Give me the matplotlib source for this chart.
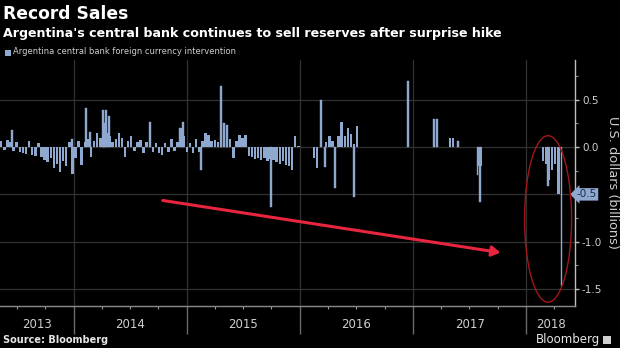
import matplotlib
matplotlib.use('Agg')
import matplotlib.pyplot as plt
import matplotlib.dates as mdates
import numpy as np
import pandas as pd
from matplotlib.patches import Ellipse, FancyArrowPatch, Rectangle
from matplotlib.transforms import blended_transform_factory

plt.rcParams['axes.unicode_minus'] = False
plt.rcParams['font.family'] = ['DejaVu Sans']

# ---------------- data ----------------
bin_start = '2013-05-07'          # 10-day bins of net intervention (USD bn)
bin_values = [
    0.06, -0.03, 0.07, 0.05, -0.04, 0.05, -0.05, -0.06, -0.07, 0.06,
    -0.08, -0.09, 0.04, -0.10, -0.14, -0.16, -0.12, -0.22, -0.18, -0.26,
    -0.15, -0.20, 0.05, -0.28, -0.12, 0.06, -0.19, 0.05, 0.08, -0.10,
    0.06, 0.15, 0.10, 0.20, 0.15, 0.12, 0.05, 0.08, 0.15, 0.10,
    -0.11, 0.06, 0.12, -0.04, 0.05, 0.07, -0.06, 0.05, 0.06, -0.05,
    0.04, -0.06, -0.08, 0.04, -0.05, 0.08, -0.04, 0.05, 0.20, 0.12,
    -0.05, 0.04, -0.06, 0.09, -0.05, 0.06, 0.15, 0.13, 0.06, 0.07,
    0.05, 0.10, 0.10, 0.08, 0.08, -0.12, 0.06, 0.13, 0.10, 0.13,
    -0.09, -0.11, -0.13, -0.12, -0.14, -0.12, -0.15, -0.13, -0.14, -0.16,
    -0.18, -0.15, -0.19, -0.20, -0.24, 0.12, 0.01, 0.005, 0.005, 0.005,
    0.0, -0.12, -0.22, 0.0, 0.0, 0.05, 0.12, 0.06, 0.0, 0.12,
    0.27, 0.12, 0.20, 0.14, 0.03, 0.22, 0.0, 0.0, 0.0, 0.0,
    0.0, 0.0, 0.0, 0.0, 0.0, 0.0, 0.0, 0.0, 0.0, 0.0,
    0.0, 0.0, 0.0, 0.0, 0.0, 0.0, 0.0, 0.0, 0.0, 0.0,
    0.0, 0.0, 0.0, 0.0, 0.0, 0.10, 0.10, 0.0, 0.0, 0.0,
    0.0, 0.0, 0.0, 0.0, -0.20, -0.20, 0.0, 0.0, 0.0, 0.0,
    0.0, 0.0, 0.0, 0.0, 0.0, 0.0, 0.0, 0.0, 0.0, 0.0,
    0.0, 0.0, 0.0, 0.0, 0.0, -0.15, -0.18, -0.35, -0.24, -0.18,
    -0.50,
]

spike_dates = [
    '2013-06-15', '2013-12-26', '2014-02-09', '2014-02-22', '2014-04-05',
    '2014-04-08', '2014-04-15', '2014-04-24', '2014-09-04', '2014-12-10',
    '2014-12-19', '2015-02-16', '2015-04-21', '2015-05-01', '2015-05-11',
    '2015-09-30', '2016-03-09', '2016-03-22', '2016-04-24', '2016-06-24',
    '2016-12-16', '2017-03-10', '2017-03-19', '2017-05-26', '2017-07-27',
    '2017-08-05', '2018-03-13', '2018-04-26',
]
spike_values = [
    0.18, 0.09, 0.41, 0.16, 0.39,
    0.25, 0.39, 0.33, 0.27, 0.20,
    0.27, -0.24, 0.65, 0.25, 0.23,
    -0.63, 0.50, -0.21, -0.43, -0.53,
    0.70, 0.30, 0.30, 0.06, -0.30,
    -0.58, -0.41, -1.47,
]

year_labels = ['2013', '2014', '2015', '2016', '2017', '2018']
y_ticks = [-1.5, -1.0, -0.5, 0.0, 0.5]

title = 'Record Sales'
subtitle = "Argentina's central bank continues to sell reserves after surprise hike"
legend_label = 'Argentina central bank foreign currency intervention'
y_label = 'U.S. dollars (billions)'
source = 'Source: Bloomberg'

# ---------------- figure ----------------
BG = '#000000'
BAR = '#8fa8cf'
GRID = '#313131'
TXT = '#cfcfcf'

fig = plt.figure(figsize=(6.2, 3.48), dpi=100, facecolor=BG)
ax = fig.add_axes([0.0, 1 - 306 / 348, 575 / 620, (306 - 60) / 348])
ax.set_facecolor(BG)

bin_dates = pd.date_range(bin_start, periods=len(bin_values), freq='10D')
ax.bar(bin_dates, bin_values, width=8, align='edge', color=BAR, linewidth=0, zorder=3)
ax.bar(pd.to_datetime(spike_dates), spike_values, width=4.5, align='center',
       color=BAR, edgecolor=BAR, linewidth=0.3, zorder=3)

x0 = pd.Timestamp('2013-05-07')
x1 = pd.Timestamp('2018-06-08')
ax.set_xlim(x0, x1)
ax.set_ylim(-1.68, 0.92)

# grid
ax.set_yticks(y_ticks)
ax.grid(axis='y', color=GRID, linewidth=0.9, zorder=0)
years = [pd.Timestamp(f'{y}-01-01') for y in range(2014, 2019)]
for yd in years:
    ax.axvline(yd, color=GRID, linewidth=0.9, zorder=0)

# spines
for s in ['top', 'left']:
    ax.spines[s].set_visible(False)
ax.spines['bottom'].set_color('#8a8a8a')
ax.spines['bottom'].set_linewidth(1.0)
ax.spines['right'].set_color('#bdbdbd')
ax.spines['right'].set_linewidth(1.0)

# y axis on right
ax.yaxis.tick_right()
labels = ['' if abs(v + 0.5) < 1e-9 else f'{v:.1f}' for v in y_ticks]
ax.set_yticklabels(labels)
ax.tick_params(axis='y', which='major', colors='#bdbdbd', labelcolor=TXT,
               labelsize=7.5, length=3, width=1, pad=2)
ax.set_yticks(np.arange(-1.5, 0.76, 0.25), minor=True)
ax.tick_params(axis='y', which='minor', colors='#8a8a8a', length=2, width=0.8)

ax.text(1.003, -0.5, '-0.5', transform=blended_transform_factory(ax.transAxes, ax.transData),
        ha='left', va='center', fontsize=7.5, color='#1a2a44',
        bbox=dict(boxstyle='larrow,pad=0.12', facecolor=BAR, edgecolor='none'))

ax.text(1.065, 0.5, y_label, transform=ax.transAxes, rotation=270,
        ha='center', va='center', fontsize=9.3, color=TXT)

# x axis: separators at years, minor quarter ticks, labels between
ax.set_xticks(years)
ax.set_xticklabels([])
ax.tick_params(axis='x', which='major', colors='#6a6a6a', length=20, width=1)
quarters = pd.date_range('2013-07-01', '2018-04-01', freq='QS')
ax.set_xticks(quarters, minor=True)
ax.tick_params(axis='x', which='minor', colors='#9a9a9a', length=2, width=0.8)

trans = blended_transform_factory(ax.transData, ax.transAxes)
edges = [x0] + years + [x1]
for lab, a, b in zip(year_labels, edges[:-1], edges[1:]):
    mid = a + (b - a) / 2
    ax.text(mid, -0.077, lab, transform=trans, ha='center', va='center',
            fontsize=8.5, color=TXT)

# annotations: arrow and ellipse
arrow = FancyArrowPatch((mdates.date2num(pd.Timestamp('2014-10-06')), -0.56),
                        (mdates.date2num(pd.Timestamp('2017-10-19')), -1.12),
                        arrowstyle='-|>,head_length=5,head_width=3',
                        color='#e8253f', linewidth=2.2, zorder=5)
ax.add_patch(arrow)
ell = Ellipse((mdates.date2num(pd.Timestamp('2018-03-13')), -0.76),
              width=152, height=1.76, fill=False, edgecolor='#a3161a',
              linewidth=1.0, zorder=5)
ax.add_patch(ell)

# titles
fig.text(0.005, 0.96, title, ha='left', va='center', fontsize=12.3,
         fontweight='bold', color='white')
fig.text(0.005, 0.905, subtitle, ha='left', va='center', fontsize=9.1,
         fontweight='bold', color='white')
fig.patches.append(Rectangle((5 / 620, 1 - 56 / 348), 6 / 620, 6 / 348,
                             transform=fig.transFigure, facecolor=BAR,
                             edgecolor='none'))
fig.text(13 / 620, 1 - 52 / 348, legend_label, ha='left', va='center',
         fontsize=6.0, color=TXT)

fig.text(0.005, 1 - 340 / 348, source, ha='left', va='center', fontsize=7,
         fontweight='bold', color='#e6e6e6')
fig.text(600 / 620, 1 - 340 / 348, 'Bloomberg', ha='right', va='center',
         fontsize=8.5, color='#e6e6e6')
fig.patches.append(Rectangle((603 / 620, 1 - 344 / 348), 8 / 620, 8 / 348,
                             transform=fig.transFigure, facecolor='#cfcfcf',
                             edgecolor='none'))

fig.savefig('out.png', dpi=100, facecolor=BG)
